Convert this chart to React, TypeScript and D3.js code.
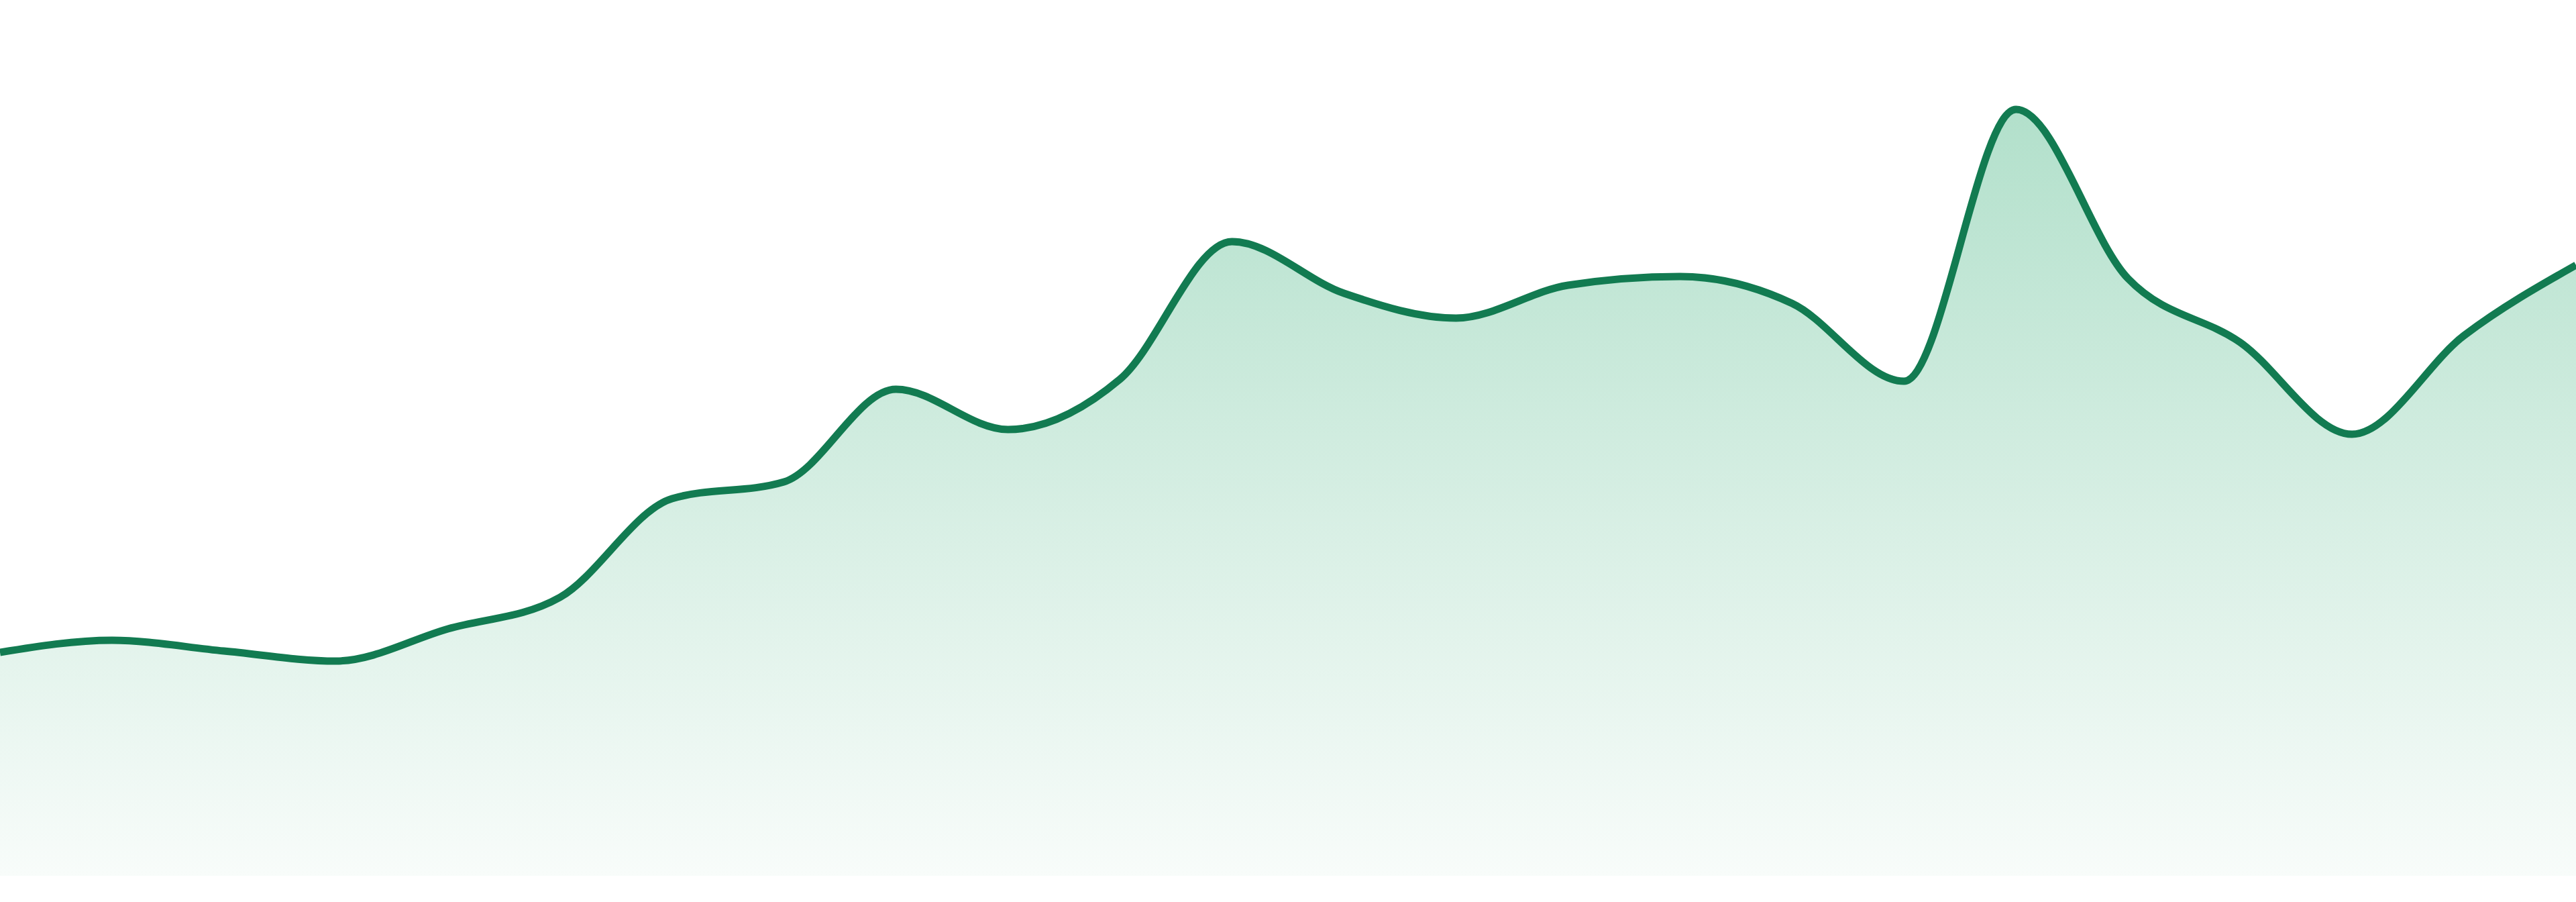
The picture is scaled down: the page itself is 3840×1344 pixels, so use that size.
import * as d3 from 'd3';
import { useEffect, useRef } from 'react';

// one value per step across the chart
const steps: number[] = d3.range(24);
const values: number[] = [
  33.3, 35.1, 33.5, 32.0, 36.8, 41.5, 56.2, 58.7, 72.5, 66.5, 74.0, 94.5,
  86.8, 83.1, 88.0, 89.3, 85.3, 73.7, 114.2, 89.0, 79.5, 65.8, 80.5, 91.0,
];

const App = () => {
  const svgRef = useRef<SVGSVGElement | null>(null);

  useEffect(() => {
    const width = 3840;
    const height = 1344;
    const baseline = 1305;

    const x = d3
      .scaleLinear()
      .domain([0, steps.length - 1])
      .range([0, width]);

    const y = d3
      .scaleLinear()
      .domain([0, 130.5])
      .range([baseline, 0]);

    const data = steps.map((s, i) => ({ s, v: values[i] }));

    const svg = d3.select(svgRef.current)
      .attr('width', width)
      .attr('height', height);

    svg.selectAll('*').remove();

    // vertical fade under the line
    const grad = svg.append('defs')
      .append('linearGradient')
      .attr('id', 'fillFade')
      .attr('gradientUnits', 'userSpaceOnUse')
      .attr('x1', 0)
      .attr('x2', 0)
      .attr('y1', y(d3.max(values)!))
      .attr('y2', baseline);
    grad.append('stop').attr('offset', 0).attr('stop-color', '#b2e0cb');
    grad.append('stop').attr('offset', 1).attr('stop-color', '#f8fcfa');

    const area = d3
      .area<{ s: number; v: number }>()
      .x((d) => x(d.s))
      .y0(baseline)
      .y1((d) => y(d.v))
      .curve(d3.curveMonotoneX);

    const line = d3
      .line<{ s: number; v: number }>()
      .x((d) => x(d.s))
      .y((d) => y(d.v))
      .curve(d3.curveMonotoneX);

    svg.append('path')
      .datum(data)
      .attr('fill', 'url(#fillFade)')
      .attr('d', area);

    svg.append('path')
      .datum(data)
      .attr('fill', 'none')
      .attr('stroke', '#127b51')
      .attr('stroke-width', 11)
      .attr('stroke-linejoin', 'round')
      .attr('d', line);
  }, []);

  return (
    <svg
      ref={svgRef}
      style={{ position: 'absolute', left: 0, top: 0, display: 'block' }}
    ></svg>
  );
};

export default App;
